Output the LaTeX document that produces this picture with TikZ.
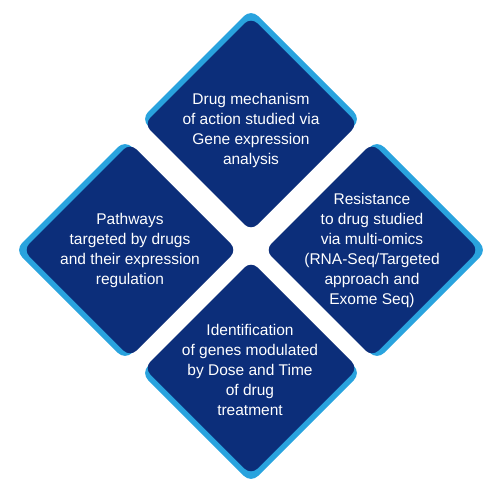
\documentclass[tikz,border=0pt]{standalone}
\usepackage{fontspec}
\setmainfont{Liberation Sans}
\definecolor{navy}{RGB}{12,46,122}
\definecolor{sky}{RGB}{41,163,222}
\newcommand\dmnd[4]{%
  \fill[sky, rounded corners=10pt] ({#1+#3-110},{#2+#4}) -- ({#1+#3},{#2+#4-110}) -- ({#1+#3+110},{#2+#4}) -- ({#1+#3},{#2+#4+110}) -- cycle;
  \fill[navy, rounded corners=9pt] ({#1-107},{#2}) -- ({#1},{#2-107}) -- ({#1+107},{#2}) -- ({#1},{#2+107}) -- cycle;}
\tikzset{lbl/.style={text=white, align=center, font=\fontsize{15.5}{20}\selectfont, inner sep=0pt}}
\begin{document}
\begin{tikzpicture}[x=1pt,y=-1pt]
\useasboundingbox (0,0) rectangle (500,500);
\dmnd{251}{124}{0}{-5}
\dmnd{130}{250}{-5}{0}
\dmnd{372}{250}{5}{0}
\dmnd{251}{368}{0}{5}
\node[lbl] (top) at (251,130) {Drug mechanism\\of action studied via\\Gene expression\\analysis};
\node[lbl] (left) at (130,250) {Pathways\\targeted by drugs\\and their expression\\regulation};
\node[lbl] (right) at (372,250) {Resistance\\to drug studied\\via multi-omics\\(RNA-Seq/Targeted\\approach and\\Exome Seq)};
\node[lbl] (bottom) at (250,370) {Identification\\of genes modulated\\by Dose and Time\\of drug\\treatment};
\end{tikzpicture}
\end{document}
